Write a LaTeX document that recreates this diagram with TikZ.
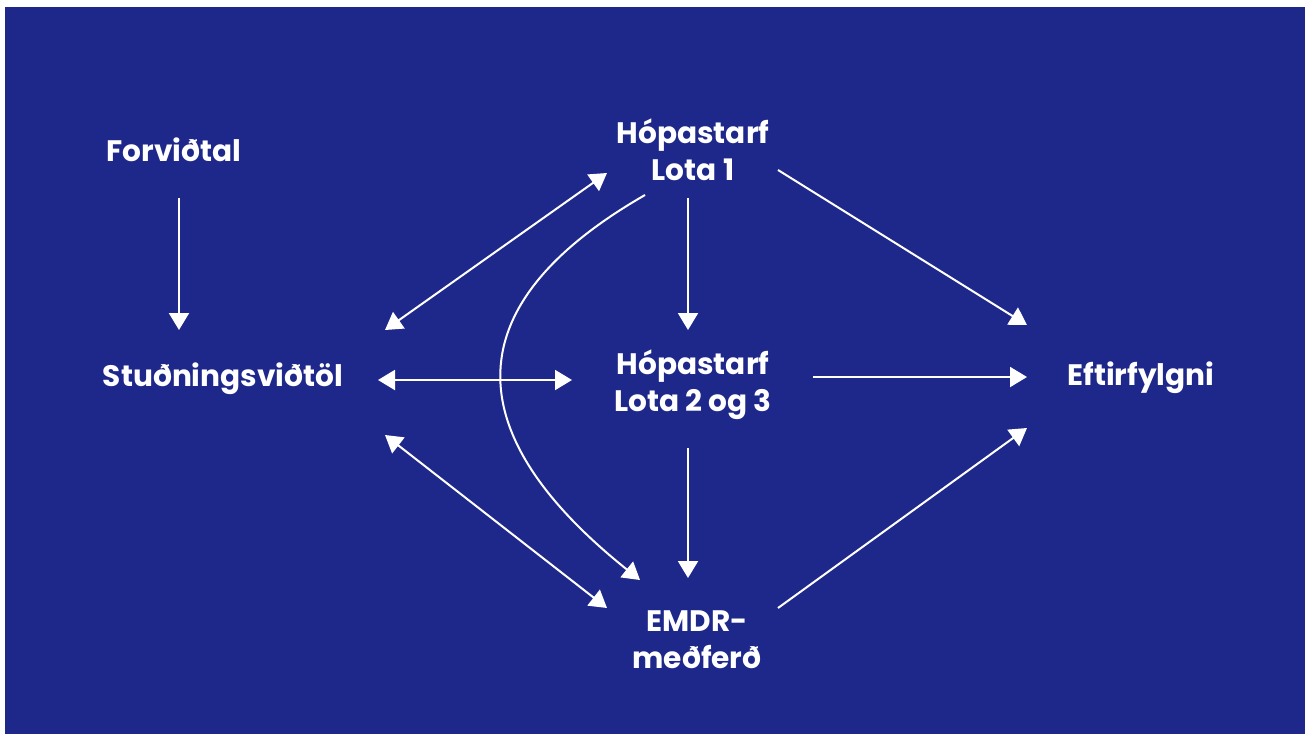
\documentclass[tikz,border=0pt]{standalone}
\usepackage{fontspec}
\setmainfont{Poppins}
\usetikzlibrary{arrows.meta}
\definecolor{bgblue}{HTML}{1E288A}
\begin{document}
\begin{tikzpicture}[x=0.5pt,y=-0.5pt,
  lbl/.style={text=white,font=\fontsize{14.8}{18.7}\selectfont\bfseries,align=center,inner sep=0pt},
  conn/.style={draw=white,line width=1pt},
  arr/.style={conn,-{Triangle[length=8.5pt,width=10pt]}},
  darr/.style={conn,{Triangle[length=8.5pt,width=10pt]}-{Triangle[length=8.5pt,width=10pt]}}]
\useasboundingbox (0,0) rectangle (1307,734);
\fill[white] (0,0) rectangle (1307,734);
\fill[bgblue] (5,7) rectangle (1305,734);
\node[lbl] (forv) at (174,150) {Forviðtal};
\node[lbl] (stud) at (223,379) {Stuðningsviðtöl};
\node[lbl] (l1) at (693,150) {Hópastarf\\Lota 1};
\node[lbl] (l23) at (693,385) {Hópastarf\\Lota 2 og 3};
\node[lbl] (emdr) at (697,640) {EMDR-\\meðferð};
\node[lbl] (eft) at (1141,378) {Eftirfylgni};
\draw[arr] ([shift={(5,48)}]forv.center) -- ([shift={(-44,-49)}]stud.center);
\draw[darr] ([shift={(162,-49)}]stud.center) -- ([shift={(-86,23)}]l1.center);
\draw[darr] ([shift={(155,1)}]stud.center) -- ([shift={(-121,-5)}]l23.center);
\draw[darr] ([shift={(162,56)}]stud.center) -- ([shift={(-90,-32)}]emdr.center);
\draw[arr] ([shift={(-5,48)}]l1.center) -- ([shift={(-5,-55)}]l23.center);
\draw[arr] ([shift={(-5,63)}]l23.center) -- ([shift={(-9,-62)}]emdr.center);
\draw[arr] ([shift={(85,20)}]l1.center) -- ([shift={(-114,-53)}]eft.center);
\draw[arr] ([shift={(120,-8)}]l23.center) -- ([shift={(-114,-1)}]eft.center);
\draw[arr] ([shift={(81,-32)}]emdr.center) -- ([shift={(-114,50)}]eft.center);
\draw[arr] ([shift={(-48,45)}]l1.center) .. controls (445,310) and (465,440) .. ([shift={(-57,-60)}]emdr.center);
\end{tikzpicture}
\end{document}
